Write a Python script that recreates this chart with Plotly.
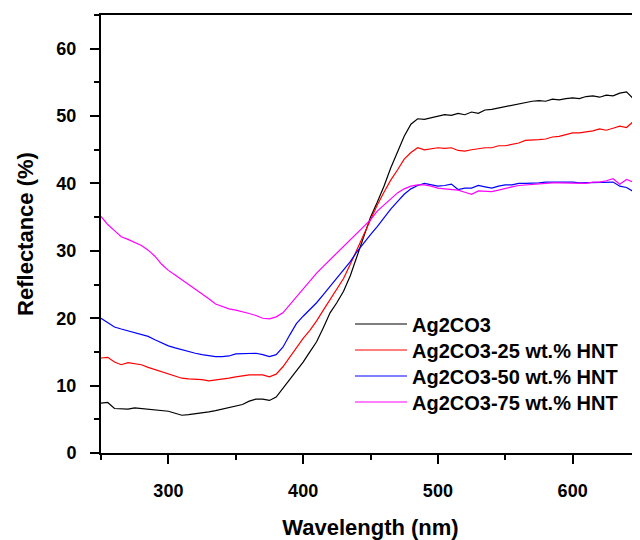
import plotly.graph_objects as go

wavelength = list(range(250, 655, 5))

ag2co3 = [7.4, 7.5, 6.6, 6.6, 6.5, 6.7, 6.6, 6.5, 6.4, 6.2,
          6.2, 5.9, 5.6, 5.7, 5.8, 6.0, 6.1, 6.3, 6.5, 6.7,
          6.9, 7.2, 7.7, 8.0, 8.0, 7.8, 8.3, 9.6, 11.0, 12.2,
          13.5, 15.0, 16.5, 18.6, 20.8, 22.3, 24.0, 26.3, 29.2, 32.3,
          35.0, 37.2, 39.6, 42.3, 44.8, 47.0, 48.8, 49.6, 49.5, 49.7,
          50.0, 50.2, 50.1, 50.4, 50.2, 50.6, 50.4, 50.9, 51.0, 51.2,
          51.5, 51.6, 51.9, 52.0, 52.2, 52.3, 52.2, 52.5, 52.4, 52.6,
          52.7, 52.6, 52.9, 53.0, 52.8, 53.1, 53.0, 53.4, 53.6, 52.6,
          54.0]

hnt25 = [14.1, 14.2, 13.5, 13.1, 13.4, 13.2, 13.1, 12.7, 12.4, 12.1,
         11.8, 11.4, 11.1, 11.0, 11.0, 10.9, 10.7, 10.8, 10.9, 11.1,
         11.3, 11.5, 11.6, 11.6, 11.6, 11.3, 11.7, 12.8, 14.2, 15.7,
         17.0, 18.2, 19.6, 21.2, 22.7, 24.3, 25.9, 28.0, 30.2, 32.4,
         34.7, 36.8, 38.7, 40.5, 42.0, 43.6, 44.6, 45.3, 45.0, 45.1,
         45.3, 45.2, 45.3, 44.9, 44.8, 45.0, 45.2, 45.3, 45.3, 45.6,
         45.6, 45.8, 46.0, 46.4, 46.4, 46.5, 46.6, 46.9, 47.0, 47.3,
         47.5, 47.5, 47.6, 47.8, 48.1, 47.9, 48.2, 48.5, 48.3, 49.2,
         47.6]

hnt50 = [20.0, 19.3, 18.7, 18.4, 18.1, 17.8, 17.5, 17.3, 16.8, 16.3,
         15.9, 15.6, 15.3, 15.1, 14.8, 14.6, 14.4, 14.3, 14.3, 14.4,
         14.7, 14.7, 14.8, 14.8, 14.6, 14.3, 14.6, 15.7, 17.5, 19.2,
         20.3, 21.3, 22.3, 23.5, 24.7, 25.9, 27.1, 28.4, 29.9, 31.2,
         32.4, 33.6, 34.9, 36.2, 37.3, 38.4, 39.2, 39.7, 40.0, 39.8,
         39.6, 39.7, 39.9, 39.1, 39.3, 39.3, 39.7, 39.5, 39.3, 39.6,
         39.8, 39.8, 40.0, 40.0, 40.0, 40.1, 40.2, 40.2, 40.3, 40.3,
         40.2, 40.1, 40.1, 40.1, 40.1, 40.2, 40.2, 39.6, 39.4, 38.8,
         39.3]

hnt75 = [35.1, 33.9, 33.0, 32.1, 31.7, 31.3, 30.8, 30.1, 29.2, 28.0,
         27.1, 26.4, 25.7, 25.1, 24.4, 23.6, 22.9, 22.1, 21.7, 21.4,
         21.2, 21.0, 20.7, 20.4, 20.0, 19.9, 20.2, 20.8, 22.0, 23.1,
         24.3, 25.6, 26.7, 27.7, 28.7, 29.7, 30.7, 31.7, 32.6, 33.6,
         34.6, 35.9, 36.8, 37.6, 38.6, 39.2, 39.6, 39.8, 39.8, 39.6,
         39.3, 39.2, 39.1, 39.0, 38.7, 38.4, 38.9, 38.8, 38.8, 39.0,
         39.3, 39.5, 39.7, 39.8, 39.9, 40.0, 40.0, 40.1, 40.1, 40.1,
         40.1, 40.1, 40.0, 40.2, 40.2, 40.4, 40.7, 39.9, 40.6, 40.2,
         40.6]

series_names = ["Ag2CO3", "Ag2CO3-25 wt.% HNT", "Ag2CO3-50 wt.% HNT", "Ag2CO3-75 wt.% HNT"]
series_values = [ag2co3, hnt25, hnt50, hnt75]
series_colors = ["#000000", "#FF0000", "#0000FF", "#FF00FF"]

x_ticks = [300, 400, 500, 600]
y_ticks = [0, 10, 20, 30, 40, 50, 60]

FONT = "Liberation Sans, Arial, sans-serif"

legend_ids = ["legend", "legend2", "legend3", "legend4"]
legend_rows_y = [0.2945, 0.2352, 0.1758, 0.1164]

fig = go.Figure()
for name, vals, col, lid in zip(series_names, series_values, series_colors, legend_ids):
    fig.add_trace(go.Scatter(x=wavelength, y=vals, mode="lines", name=name,
                             legend=lid,
                             line=dict(color=col, width=1.2)))

legend_style = dict(x=0.462, xanchor="left", yanchor="middle",
                    bgcolor="rgba(0,0,0,0)", borderwidth=0, itemwidth=52,
                    font=dict(family=FONT, size=20, color="black", weight="bold"))

# page body has an 8px margin, so the figure is sized to fill the 640x540 window exactly
fig.update_layout(
    width=632, height=532,
    margin=dict(l=93, r=0, t=7, b=87, autoexpand=False),
    plot_bgcolor="white", paper_bgcolor="white",
    font=dict(family=FONT, color="black"),
    showlegend=True,
    xaxis=dict(range=[250, 650], tickvals=x_ticks, ticktext=[str(v) for v in x_ticks],
               showline=True, linecolor="black", linewidth=2, mirror=True,
               ticks="outside", ticklen=9, tickwidth=2, tickcolor="black",
               minor=dict(dtick=50, tick0=250, ticks="outside", ticklen=5, tickwidth=2, tickcolor="black"),
               showgrid=False, zeroline=False, automargin=False,
               tickfont=dict(family=FONT, size=18, weight="bold"),
               ticklabelstandoff=11,
               title=dict(text="Wavelength (nm)", standoff=22,
                          font=dict(family=FONT, size=22, weight="bold"))),
    yaxis=dict(range=[0, 65], tickvals=y_ticks, ticktext=[str(v) for v in y_ticks],
               showline=True, linecolor="black", linewidth=2, mirror=False,
               ticks="outside", ticklen=9, tickwidth=2, tickcolor="black",
               minor=dict(dtick=5, tick0=0, ticks="outside", ticklen=5, tickwidth=2, tickcolor="black"),
               showgrid=False, zeroline=False, automargin=False,
               tickfont=dict(family=FONT, size=18, weight="bold"),
               ticklabelstandoff=10,
               title=dict(text="Reflectance (%)", standoff=17,
                          font=dict(family=FONT, size=22, weight="bold"))),
)
for lid, ly in zip(legend_ids, legend_rows_y):
    fig.update_layout({lid: dict(legend_style, y=ly)})

fig.write_html("out.html")
